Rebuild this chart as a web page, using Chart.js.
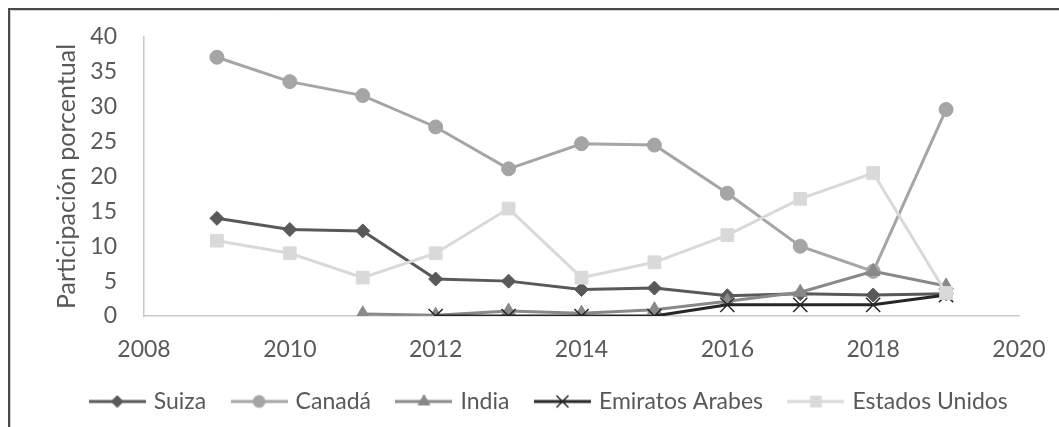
<!DOCTYPE html>
<html>
<head>
<meta charset="utf-8">
<script src="https://cdn.jsdelivr.net/npm/chart.js@4/dist/chart.umd.min.js"></script>
<style>
  html, body { margin: 0; padding: 0; background: #fff; }
  #wrap { width: 1059px; height: 427px; position: relative; }
</style>
</head>
<body>
<div id="wrap"><canvas id="chart" width="1059" height="427"></canvas></div>
<script>
// values
const years = [2009, 2010, 2011, 2012, 2013, 2014, 2015, 2016, 2017, 2018, 2019];
const suiza = [14.0, 12.4, 12.2, 5.3, 5.0, 3.8, 4.0, 2.9, 3.2, 3.0, 3.2];
const canada = [37.1, 33.6, 31.6, 27.1, 21.1, 24.7, 24.5, 17.6, 10.0, 6.4, 29.6];
const india = [null, null, 0.3, 0.1, 0.7, 0.4, 0.9, 2.1, 3.4, 6.4, 4.3];
const emiratos = [null, null, null, 0, 0, 0, 0, 1.6, 1.6, 1.6, 3.0];
const eeuu = [10.8, 9.0, 5.5, 9.0, 15.4, 5.5, 7.7, 11.6, 16.8, 20.5, 3.3];

const seriesNames = ['Suiza', 'Canadá', 'India', 'Emiratos Arabes', 'Estados Unidos'];
const xTicks = [2008, 2010, 2012, 2014, 2016, 2018, 2020];
const yTicks = [0, 5, 10, 15, 20, 25, 30, 35, 40];

const FONT = "Lato, 'Open Sans', sans-serif";
const TXT = '#595959';

// look of each series
const styles = [
  { color: '#595959', point: 'rectRot', radius: 7, width: 3 },
  { color: '#a5a5a5', point: 'circle', radius: 7, width: 3 },
  { color: '#898989', point: 'triangle', radius: 8, width: 3 },
  { color: '#262626', point: 'crossRot', radius: 10, width: 3 },
  { color: '#d9d9d9', point: 'rect', radius: 9, width: 3 }
];
const values = [suiza, canada, india, emiratos, eeuu];

function toPoints(arr) {
  return years.map((y, i) => ({ x: y, y: arr[i] }));
}

// legend icon: short line with the marker in the middle
function legendIcon(st) {
  const c = document.createElement('canvas');
  c.width = 57; c.height = 22;
  const g = c.getContext('2d');
  g.strokeStyle = st.color;
  g.lineWidth = st.width;
  g.beginPath(); g.moveTo(0, 11); g.lineTo(57, 11); g.stroke();
  g.fillStyle = st.color;
  g.lineWidth = st.point === 'crossRot' ? 1.5 : 1;
  Chart.helpers.drawPoint(g, { pointStyle: st.point, radius: st.radius * 0.85, rotation: 0, borderWidth: g.lineWidth }, 28.5, 11);
  return c;
}

const datasets = values.map((arr, i) => ({
  label: seriesNames[i],
  data: toPoints(arr),
  borderColor: styles[i].color,
  backgroundColor: styles[i].color,
  borderWidth: styles[i].width,
  pointStyle: styles[i].point,
  pointRadius: styles[i].radius,
  pointBorderWidth: styles[i].point === 'crossRot' ? 1.5 : 1,
  pointBorderColor: styles[i].color,
  pointBackgroundColor: styles[i].color,
  tension: 0,
  spanGaps: false,
  order: values.length - i   // later series on top, like the original
}));

const framePlugin = {
  id: 'frame',
  beforeDraw(chart) {
    const c = chart.ctx;
    c.save();
    c.fillStyle = '#fff';
    c.fillRect(0, 0, chart.width, chart.height);
    c.strokeStyle = '#d0d0d0';
    c.lineWidth = 1;
    c.beginPath();
    c.moveTo(10.5, 427); c.lineTo(10.5, 10.5); c.lineTo(1059, 10.5);
    c.stroke();
    c.strokeStyle = '#4a4a4a';
    c.lineWidth = 2;
    c.beginPath();
    c.moveTo(9, 427); c.lineTo(9, 9); c.lineTo(1059, 9);
    c.stroke();
    c.restore();
  }
};

const ctx = document.getElementById('chart').getContext('2d');
new Chart(ctx, {
  type: 'line',
  data: { datasets: datasets },
  plugins: [framePlugin],
  options: {
    responsive: false,
    animation: false,
    layout: { padding: { left: 41, right: 0, top: 37, bottom: 4 } },
    plugins: {
      tooltip: { enabled: false },
      legend: {
        position: 'bottom',
        labels: {
          usePointStyle: true,
          pointStyleWidth: 50,
          padding: 28,
          color: TXT,
          font: { family: FONT, size: 23 },
          sort: (a, b) => a.datasetIndex - b.datasetIndex,
          generateLabels(chart) {
            const items = Chart.defaults.plugins.legend.labels.generateLabels(chart);
            items.forEach(it => { it.pointStyle = legendIcon(styles[it.datasetIndex]); });
            return items;
          }
        }
      }
    },
    scales: {
      x: {
        type: 'linear',
        min: 2008,
        max: 2020,
        afterBuildTicks(s) { s.ticks = xTicks.map(v => ({ value: v })); },
        afterFit(s) { s.height = 46; },
        grid: { display: false },
        border: { display: true, color: '#c8c8c8', width: 1.5 },
        ticks: {
          color: TXT,
          padding: 12,
          maxRotation: 0,
          autoSkip: false,
          font: { family: FONT, size: 23 },
          callback: v => String(v)
        }
      },
      y: {
        min: 0,
        max: 40,
        afterBuildTicks(s) { s.ticks = yTicks.map(v => ({ value: v })); },
        afterFit(s) { s.width = 103; },
        grid: { display: false },
        border: { display: true, color: '#c8c8c8', width: 1.5 },
        ticks: {
          color: TXT,
          padding: 19,
          autoSkip: false,
          font: { family: FONT, size: 23 }
        },
        title: {
          display: true,
          text: 'Participación porcentual',
          color: TXT,
          font: { family: FONT, size: 25 },
          padding: { top: 11 }
        }
      },
      // empty right-hand strip so the plot ends where the original does
      side: {
        type: 'linear',
        position: 'right',
        display: true,
        grid: { display: false },
        border: { display: false },
        ticks: { display: false },
        afterFit(s) { s.width = 40; }
      }
    }
  }
});
</script>
</body>
</html>
